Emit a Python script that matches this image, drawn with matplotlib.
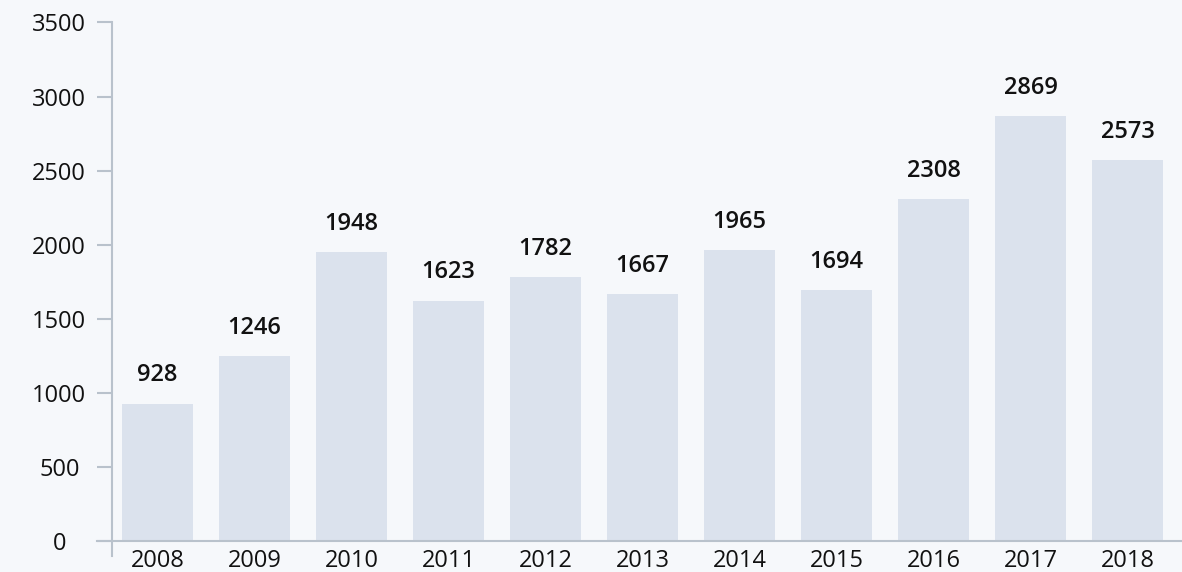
import matplotlib.pyplot as plt
import numpy as np

years = ['2008', '2009', '2010', '2011', '2012', '2013', '2014', '2015', '2016', '2017', '2018']
values = [928, 1246, 1948, 1623, 1782, 1667, 1965, 1694, 2308, 2869, 2573]
yticks = [0, 500, 1000, 1500, 2000, 2500, 3000, 3500]

bg = '#f6f8fb'
bar_color = '#dbe2ed'
axis_color = '#b9c2cc'

fig = plt.figure(figsize=(11.82, 5.72), dpi=100, facecolor=bg)
ax = fig.add_axes([0.0948, 0.0542, 0.9052, 0.9065])
ax.set_facecolor(bg)

x = np.arange(len(years))
ax.bar(x, values, width=0.73, color=bar_color, zorder=2)

# value labels above bars
for xi, v in zip(x, values):
    ax.annotate(str(v), (xi, v), xytext=(0, 16), textcoords='offset points',
                ha='center', va='baseline', fontsize=17, fontweight='semibold',
                family='Open Sans', color='#111111')

ax.set_xlim(-0.469, 10.562)
ax.set_ylim(0, 3500)
ax.set_yticks(yticks)
ax.set_xticks(x)
ax.set_xticklabels(years, family='Open Sans', fontsize=17)
ax.set_yticklabels([str(t) for t in yticks], family='Open Sans', fontsize=17, ha='center')

for s in ['top', 'right']:
    ax.spines[s].set_visible(False)
for s in ['left', 'bottom']:
    ax.spines[s].set_color(axis_color)
    ax.spines[s].set_linewidth(1.5)
ax.spines['left'].set_bounds(-100, 3500)
ax.spines['bottom'].set_bounds(-0.625, 10.562)

ax.tick_params(axis='y', length=11, width=1.5, color=axis_color, pad=27, labelcolor='#111111')
ax.tick_params(axis='x', length=0, pad=6, labelcolor='#111111')

plt.savefig('out.png', dpi=100, facecolor=bg)
